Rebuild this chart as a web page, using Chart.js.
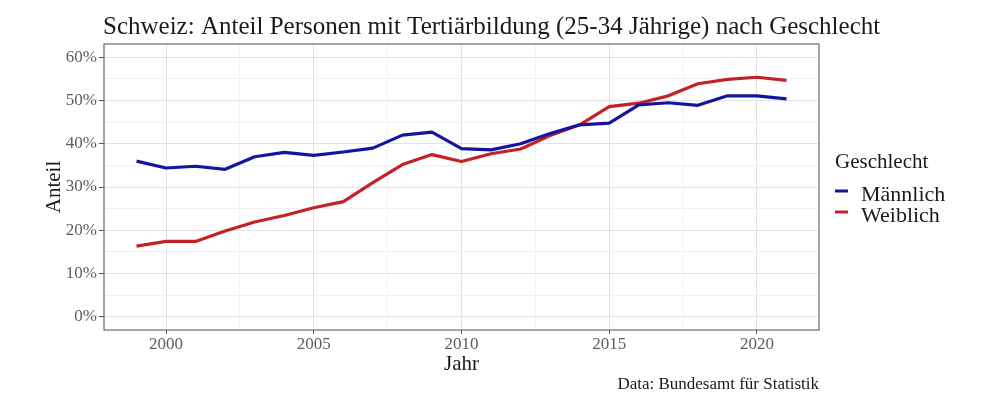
<!DOCTYPE html>
<html lang="de">
<head>
<meta charset="utf-8">
<title>Schweiz: Anteil Personen mit Tertiärbildung</title>
<script src="https://cdn.jsdelivr.net/npm/chart.js@4"></script>
<style>
  html, body { margin: 0; padding: 0; background: #fff; }
  #wrap { width: 1000px; height: 398px; }
</style>
</head>
<body>
<div id="wrap"><canvas id="chart" width="1000" height="398"></canvas></div>
<script>
// === DATEN ===
const jahre = [1999, 2000, 2001, 2002, 2003, 2004, 2005, 2006, 2007, 2008, 2009, 2010,
  2011, 2012, 2013, 2014, 2015, 2016, 2017, 2018, 2019, 2020, 2021];
const maennlich = [36.0, 34.4, 34.8, 34.1, 37.0, 38.0, 37.3, 38.1, 39.0, 42.0, 42.7, 38.9,
  38.6, 40.0, 42.4, 44.4, 44.8, 49.0, 49.5, 48.9, 51.1, 51.1, 50.4];
const weiblich = [16.3, 17.4, 17.4, 19.8, 21.9, 23.4, 25.2, 26.6, 31.0, 35.2, 37.5, 35.9,
  37.7, 38.8, 41.9, 44.4, 48.6, 49.4, 51.1, 53.9, 54.9, 55.4, 54.7];
const serien = ["Männlich", "Weiblich"];
const yTicks = [0, 10, 20, 30, 40, 50, 60];
const xTicks = [2000, 2005, 2010, 2015, 2020];

const titel = "Schweiz: Anteil Personen mit Tertiärbildung (25-34 Jährige) nach Geschlecht";
const quelle = "Data: Bundesamt für Statistik";
const legendenTitel = "Geschlecht";

(function () {
  const FONT = "'Liberation Serif', 'Times New Roman', serif";
  Chart.defaults.font.family = FONT;

  // Haupt- und Nebenlinien (Mitte zwischen zwei Haupt-Ticks)
  const withMinor = (major) => {
    const out = [];
    major.forEach((v, i) => {
      out.push(v);
      if (i < major.length - 1) out.push((v + major[i + 1]) / 2);
    });
    return out;
  };
  const isMajor = (major, v) => major.indexOf(v) !== -1;

  const toPoints = (vals) => vals.map((v, i) => ({ x: jahre[i], y: v }));

  // === TEXTE, RAHMEN, LEGENDE ===
  const extras = {
    id: "extras",
    afterDraw(chart) {
      const { ctx, chartArea: a } = chart;
      ctx.save();

      // Rahmen um das Panel
      ctx.strokeStyle = "#6b6b6b";
      ctx.lineWidth = 1.2;
      ctx.strokeRect(a.left, a.top, a.right - a.left, a.bottom - a.top);

      // Titel
      ctx.fillStyle = "#1a1a1a";
      ctx.textBaseline = "alphabetic";
      ctx.textAlign = "left";
      ctx.font = "25px " + FONT;
      ctx.fillText(titel, 103, 34);

      // Quelle
      ctx.font = "17px " + FONT;
      ctx.textAlign = "right";
      ctx.fillText(quelle, 819, 389);

      // Legende
      ctx.textAlign = "left";
      ctx.font = "21px " + FONT;
      ctx.fillText(legendenTitel, 835, 168);
      ctx.font = "22px " + FONT;
      chart.data.datasets.forEach((ds, i) => {
        const y = 191 + i * 21;
        ctx.strokeStyle = ds.borderColor;
        ctx.lineWidth = 3;
        ctx.beginPath();
        ctx.moveTo(835, y);
        ctx.lineTo(848, y);
        ctx.stroke();
        ctx.fillText(ds.label, 861, y + 10);
      });

      ctx.restore();
    },
  };

  new Chart(document.getElementById("chart"), {
    type: "line",
    data: {
      datasets: [
        { label: serien[0], data: toPoints(maennlich), borderColor: "#1414a0" },
        { label: serien[1], data: toPoints(weiblich), borderColor: "#c42126" },
      ].map((d) => ({
        ...d,
        borderWidth: 3.2,
        pointRadius: 0,
        tension: 0,
        fill: false,
        borderJoinStyle: "round",
      })),
    },
    options: {
      responsive: false,
      animation: false,
      layout: { padding: { left: 0, top: 44, right: 181, bottom: 20 } },
      plugins: {
        legend: { display: false },
        tooltip: { enabled: false },
      },
      scales: {
        x: {
          type: "linear",
          min: 1997.9,
          max: 2022.1,
          afterFit: (s) => { s.height = 48; },
          afterBuildTicks: (s) => { s.ticks = withMinor(xTicks).map((v) => ({ value: v })); },
          border: { display: false },
          grid: {
            color: (c) => (isMajor(xTicks, c.tick.value) ? "#e3e3e3" : "#f1f1f1"),
            tickColor: (c) => (isMajor(xTicks, c.tick.value) ? "#555" : "rgba(0,0,0,0)"),
            tickLength: 4,
          },
          ticks: {
            autoSkip: false,
            maxRotation: 0,
            padding: 0,
            color: "#5e5e5e",
            font: { size: 17 },
            callback: (v) => (isMajor(xTicks, v) ? String(v) : ""),
          },
          title: {
            display: true,
            text: "Jahr",
            color: "#1a1a1a",
            font: { size: 21 },
            padding: { top: 0, bottom: 1 },
          },
        },
        y: {
          min: -3.1,
          max: 63.1,
          afterFit: (s) => { s.width = 104; },
          afterBuildTicks: (s) => { s.ticks = withMinor(yTicks).map((v) => ({ value: v })); },
          border: { display: false },
          grid: {
            color: (c) => (isMajor(yTicks, c.tick.value) ? "#e3e3e3" : "#f1f1f1"),
            tickColor: (c) => (isMajor(yTicks, c.tick.value) ? "#555" : "rgba(0,0,0,0)"),
            tickLength: 5,
          },
          ticks: {
            autoSkip: false,
            padding: 2,
            color: "#5e5e5e",
            font: { size: 17 },
            callback: (v) => (isMajor(yTicks, v) ? v + "%" : ""),
          },
          title: {
            display: true,
            text: "Anteil",
            color: "#1a1a1a",
            font: { size: 21 },
            padding: { top: 42, bottom: 0 },
          },
        },
      },
    },
    plugins: [extras],
  });
})();
</script>
</body>
</html>
